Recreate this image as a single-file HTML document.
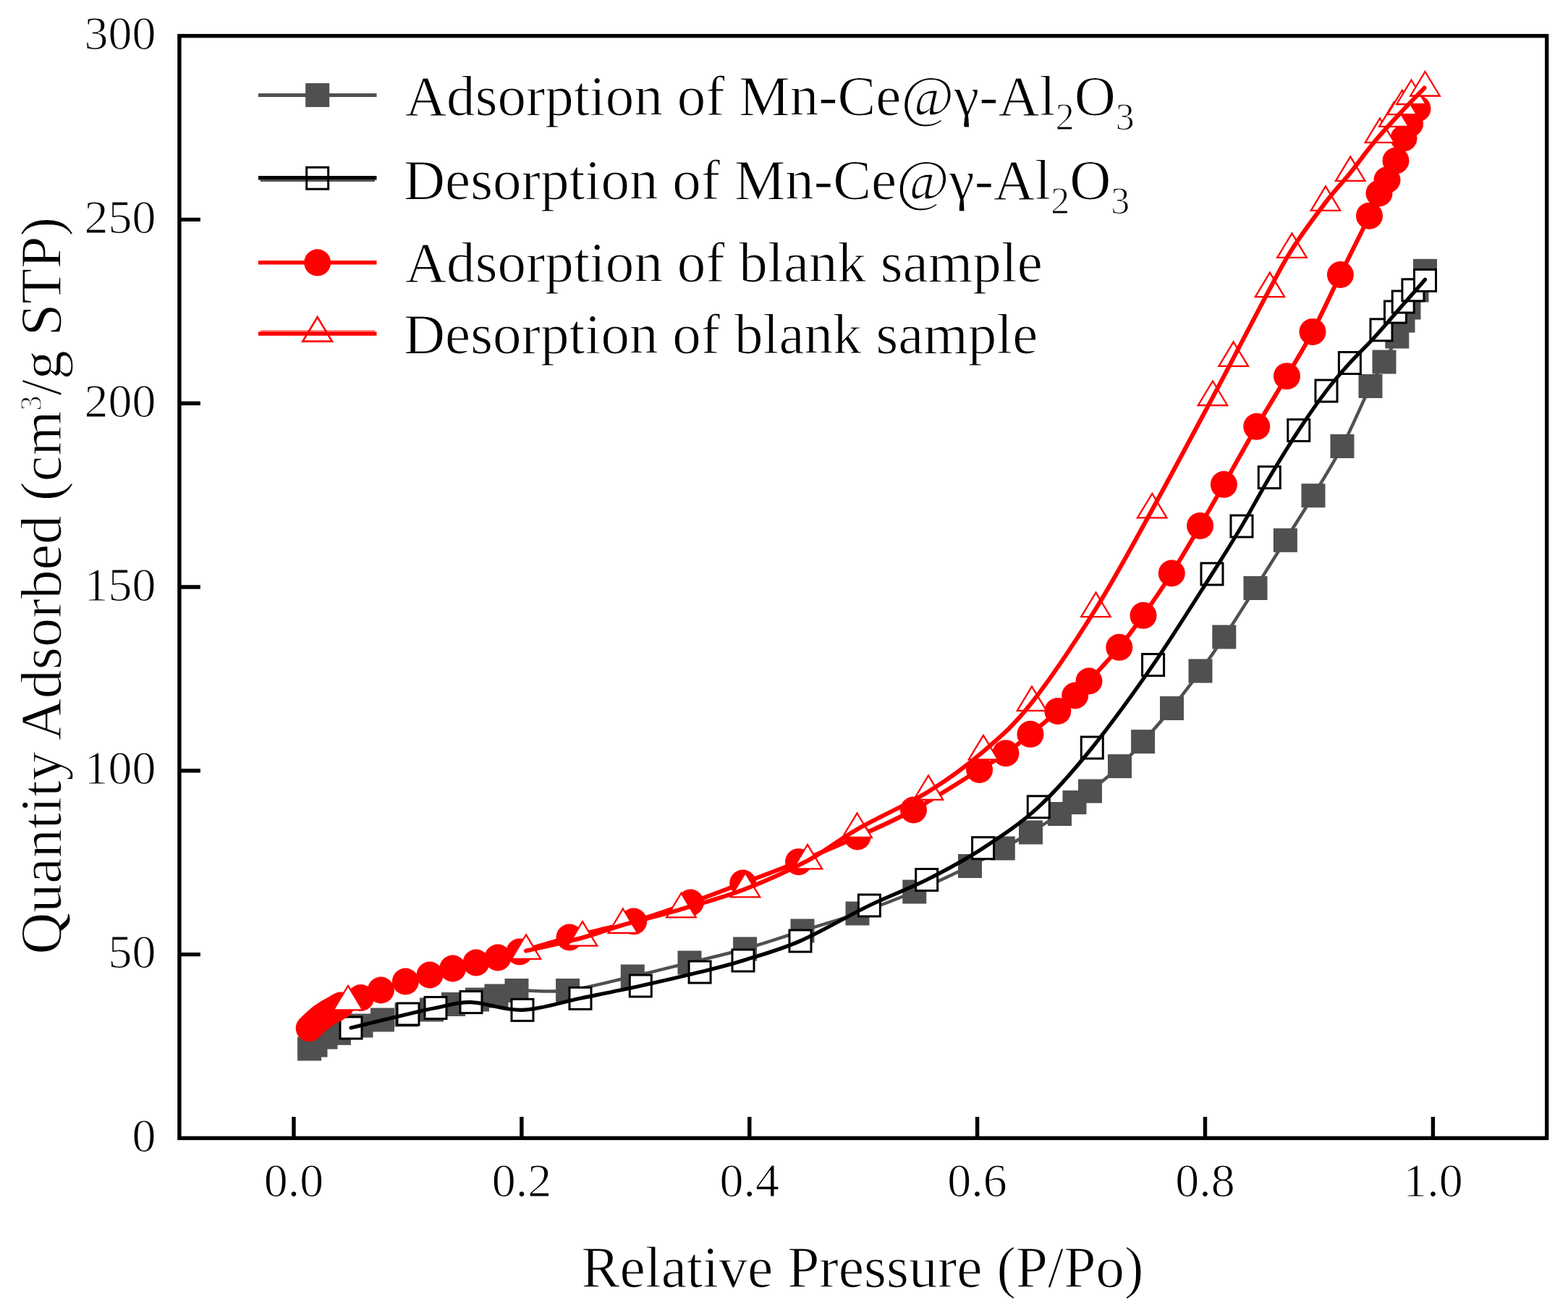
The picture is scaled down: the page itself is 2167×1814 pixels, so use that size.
<!DOCTYPE html><html><head><meta charset="utf-8"><title>Isotherm</title><style>html,body{margin:0;padding:0;background:#fff}svg{display:block}</style></head><body>
<svg width="2167" height="1814" viewBox="0 0 2167 1814">
<rect width="100%" height="100%" fill="#fff"/>
<defs><clipPath id="pc"><rect x="247.9" y="49.6" width="1889.8" height="1522.8"/></clipPath></defs>
<g clip-path="url(#pc)">
<path d="M427.6 1449C429 1448.2 432.3 1446.7 436 1444C439.7 1441.3 444.6 1435.8 450 1433C455.4 1430.2 460.3 1430 468.5 1427.3C476.7 1424.6 489 1420 499 1417C509 1414 518 1411.5 528.5 1409C539 1406.5 550.7 1404.3 562 1402C573.3 1399.7 585.8 1397.4 596.5 1395C607.2 1392.6 616 1389.8 626.5 1387.5C637 1385.2 649.6 1382.9 659.5 1381C669.4 1379.1 676.9 1378.1 686 1376C695.1 1373.9 697.6 1369.8 714 1368.5C730.4 1367.2 757.9 1371.8 784.6 1368.5C811.3 1365.2 846.2 1355.4 874.3 1349C902.4 1342.6 927.1 1336.3 953 1330C978.9 1323.7 1003.6 1318.3 1029.6 1311C1055.6 1303.7 1083.1 1294.2 1109 1286C1134.9 1277.8 1159.2 1271 1185 1262C1210.8 1253 1237.9 1242.9 1263.8 1232C1289.7 1221.1 1320.1 1206.5 1340.5 1196.5C1360.9 1186.5 1372.3 1179.8 1386.3 1172C1400.3 1164.2 1411.5 1157.9 1424.5 1150C1437.5 1142.1 1454.4 1131.4 1464.5 1124.5C1474.6 1117.6 1478 1113.8 1485 1108.6C1492 1103.3 1496.1 1101.3 1506.5 1093C1516.9 1084.7 1535.3 1070 1547.5 1058.6C1559.7 1047.2 1567.6 1037.9 1579.6 1024.6C1591.6 1011.2 1606.3 994.8 1619.5 978.5C1632.7 962.2 1647 943.4 1659 927C1671 910.6 1679.1 899.1 1691.8 880C1704.5 860.9 1720.9 834.8 1735 812.5C1749.1 790.2 1763.1 767.7 1776.4 746.4C1789.7 725.1 1801.9 706.4 1815 684.7C1828.1 663.1 1841.8 641.7 1855 616.5C1868.2 591.3 1884.3 552.9 1894 533.5C1903.7 514.1 1906.9 511.4 1913 500C1919.1 488.6 1926.5 474.5 1930.8 465C1935.1 455.5 1936.3 449.7 1939 443C1941.7 436.3 1943.8 432 1947 425C1950.2 418 1954.2 409.4 1958 401C1961.8 392.6 1967.6 378.8 1969.5 374.3" stroke="#505050" stroke-width="4.5" fill="none" stroke-linejoin="round" stroke-linecap="round"/>
<g fill="#505050" stroke="none"><rect x="411.1" y="1432.5" width="33" height="33"/><rect x="419.5" y="1427.5" width="33" height="33"/><rect x="433.5" y="1416.5" width="33" height="33"/><rect x="452" y="1410.8" width="33" height="33"/><rect x="482.5" y="1400.5" width="33" height="33"/><rect x="512" y="1392.5" width="33" height="33"/><rect x="545.5" y="1385.5" width="33" height="33"/><rect x="580" y="1378.5" width="33" height="33"/><rect x="610" y="1371" width="33" height="33"/><rect x="643" y="1364.5" width="33" height="33"/><rect x="669.5" y="1359.5" width="33" height="33"/><rect x="697.5" y="1352" width="33" height="33"/><rect x="768.1" y="1352" width="33" height="33"/><rect x="857.8" y="1332.5" width="33" height="33"/><rect x="936.5" y="1313.5" width="33" height="33"/><rect x="1013.1" y="1294.5" width="33" height="33"/><rect x="1092.5" y="1269.5" width="33" height="33"/><rect x="1168.5" y="1245.5" width="33" height="33"/><rect x="1247.3" y="1215.5" width="33" height="33"/><rect x="1324" y="1180" width="33" height="33"/><rect x="1369.8" y="1155.5" width="33" height="33"/><rect x="1408" y="1133.5" width="33" height="33"/><rect x="1448" y="1108" width="33" height="33"/><rect x="1468.5" y="1092.1" width="33" height="33"/><rect x="1490" y="1076.5" width="33" height="33"/><rect x="1531" y="1042.1" width="33" height="33"/><rect x="1563.1" y="1008.1" width="33" height="33"/><rect x="1603" y="962" width="33" height="33"/><rect x="1642.5" y="910.5" width="33" height="33"/><rect x="1675.3" y="863.5" width="33" height="33"/><rect x="1718.5" y="796" width="33" height="33"/><rect x="1759.9" y="729.9" width="33" height="33"/><rect x="1798.5" y="668.2" width="33" height="33"/><rect x="1838.5" y="600" width="33" height="33"/><rect x="1877.5" y="517" width="33" height="33"/><rect x="1896.5" y="483.5" width="33" height="33"/><rect x="1914.3" y="448.5" width="33" height="33"/><rect x="1922.5" y="426.5" width="33" height="33"/><rect x="1930.5" y="408.5" width="33" height="33"/><rect x="1941.5" y="384.5" width="33" height="33"/><rect x="1953" y="357.8" width="33" height="33"/></g>
<g fill="#fff" stroke="#000" stroke-width="3"><rect x="470" y="1405" width="30" height="30"/><rect x="549" y="1386" width="30" height="30"/><rect x="587" y="1377.5" width="30" height="30"/><rect x="636" y="1369.6" width="30" height="30"/><rect x="707" y="1380.4" width="30" height="30"/><rect x="787" y="1364.3" width="30" height="30"/><rect x="870.3" y="1347" width="30" height="30"/><rect x="952.1" y="1328" width="30" height="30"/><rect x="1012" y="1312" width="30" height="30"/><rect x="1091" y="1285" width="30" height="30"/><rect x="1186.4" y="1236" width="30" height="30"/><rect x="1265.7" y="1200.5" width="30" height="30"/><rect x="1343.6" y="1156.7" width="30" height="30"/><rect x="1420.3" y="1099.8" width="30" height="30"/><rect x="1494.3" y="1018" width="30" height="30"/><rect x="1578.6" y="903.6" width="30" height="30"/><rect x="1660" y="778" width="30" height="30"/><rect x="1701" y="712" width="30" height="30"/><rect x="1739.3" y="644.6" width="30" height="30"/><rect x="1779.8" y="579.5" width="30" height="30"/><rect x="1818" y="525" width="30" height="30"/><rect x="1850.4" y="486.5" width="30" height="30"/><rect x="1894" y="440.8" width="30" height="30"/><rect x="1913.5" y="416" width="30" height="30"/><rect x="1924.2" y="402" width="30" height="30"/><rect x="1937.9" y="385.8" width="30" height="30"/><rect x="1954.5" y="372.4" width="30" height="30"/></g>
<path d="M485 1420C498.2 1416.8 544.5 1405.6 564 1401C583.5 1396.4 587.5 1395.2 602 1392.5C616.5 1389.8 631 1384.1 651 1384.6C671 1385.1 696.8 1396.3 722 1395.4C747.2 1394.5 774.8 1384.9 802 1379.3C829.2 1373.7 857.8 1368 885.3 1362C912.8 1356 943.5 1348.8 967.1 1343C990.7 1337.2 1003.9 1334.2 1027 1327C1050.2 1319.8 1076.9 1312.7 1106 1300C1135.1 1287.3 1172.3 1265.1 1201.4 1251C1230.5 1236.9 1254.5 1228.7 1280.7 1215.5C1306.9 1202.3 1332.8 1188.5 1358.6 1171.7C1384.4 1154.9 1410.2 1137.9 1435.3 1114.8C1460.4 1091.7 1482.9 1065.7 1509.3 1033C1535.7 1000.3 1566 958.6 1593.6 918.6C1621.2 878.6 1654.6 824.9 1675 793C1695.4 761.1 1702.8 749.2 1716 727C1729.2 704.8 1741.2 681.7 1754.3 659.6C1767.4 637.5 1781.7 614.4 1794.8 594.5C1807.9 574.6 1821.2 555.5 1833 540C1844.8 524.5 1854.2 513.9 1865.4 501.5C1876.6 489.1 1888.4 478.1 1900 465.4C1911.6 452.7 1923.4 438.7 1935 425.5C1946.6 412.3 1963.8 392.8 1969.5 386.2" stroke="#000" stroke-width="5.2" fill="none" stroke-linejoin="round" stroke-linecap="round"/>
<path d="M427.2 1420.6C428.5 1419.3 432.3 1415.5 435 1413C437.7 1410.5 440.6 1408 443.5 1405.7C446.4 1403.5 449.4 1401.4 452.5 1399.5C455.6 1397.6 459.3 1395.8 462.4 1394.1C465.5 1392.3 465 1391.6 471 1389C477 1386.4 489.4 1382 498.6 1378.5C507.8 1375 516.1 1371.8 526.4 1368C536.7 1364.2 549.1 1359.5 560.4 1356C571.7 1352.5 583.1 1350 594 1347C604.9 1344 615 1340.8 625.7 1338C636.4 1335.2 647.6 1332.5 658 1330C668.4 1327.5 678 1325.5 688 1323C698 1320.5 701.5 1319.7 718 1315C734.5 1310.3 760.7 1302 787 1295C813.3 1288 847.8 1281 875.7 1273C903.6 1265 929.1 1255.8 954.3 1247C979.5 1238.2 1001.8 1229.4 1026.7 1220C1051.6 1210.6 1077.2 1201.4 1103.6 1190.7C1130 1180 1158.5 1168 1185 1156C1211.5 1144 1234.4 1134.4 1262.5 1119C1290.6 1103.6 1332.3 1076.5 1353.6 1063.5C1374.8 1050.5 1378.3 1048.9 1390 1040.7C1401.7 1032.5 1412 1024 1424 1014.3C1436 1004.6 1451.5 991.4 1461.8 982.5C1472.1 973.6 1478.5 967.9 1485.7 961C1492.9 954.1 1494.8 952.1 1505 941C1515.2 929.9 1534.3 909.4 1546.8 894.3C1559.3 879.2 1567.9 867.3 1580 850.3C1592.1 833.2 1606.2 812.6 1619.3 792C1632.4 771.4 1646.6 746.9 1658.6 726.4C1670.6 705.9 1678.4 692.1 1691.4 669.3C1704.4 646.4 1722.3 614.2 1736.8 589.3C1751.3 564.4 1765.6 541.5 1778.5 519.7C1791.4 497.9 1801.7 481.8 1814 458.4C1826.3 435 1839.3 406.2 1852.4 379.5C1865.5 352.8 1883.6 316.9 1892.5 298.2C1901.4 279.4 1901.9 275.3 1906 267C1910.1 258.7 1913.2 256 1917 248.5C1920.8 241 1925.2 231.6 1929 222C1932.8 212.4 1936.8 199.5 1940 191C1943.2 182.5 1945.3 177.8 1948.5 171C1951.7 164.2 1957.2 153.5 1959 150" stroke="#ff0000" stroke-width="6" fill="none" stroke-linejoin="round" stroke-linecap="round"/>
<g fill="#ff0000" stroke="none"><circle cx="427.2" cy="1420.6" r="18.5"/><circle cx="429.8" cy="1418.1" r="18.5"/><circle cx="432.4" cy="1415.5" r="18.5"/><circle cx="435" cy="1413" r="18.5"/><circle cx="437.8" cy="1410.6" r="18.5"/><circle cx="440.7" cy="1408.1" r="18.5"/><circle cx="443.5" cy="1405.7" r="18.5"/><circle cx="446.5" cy="1403.6" r="18.5"/><circle cx="449.5" cy="1401.6" r="18.5"/><circle cx="452.5" cy="1399.5" r="18.5"/><circle cx="455.8" cy="1397.7" r="18.5"/><circle cx="459.1" cy="1395.9" r="18.5"/><circle cx="462.4" cy="1394.1" r="18.5"/><circle cx="465.3" cy="1392.4" r="18.5"/><circle cx="468.1" cy="1390.7" r="18.5"/><circle cx="471" cy="1389" r="18.5"/><circle cx="498.6" cy="1378.5" r="18.5"/><circle cx="526.4" cy="1368" r="18.5"/><circle cx="560.4" cy="1356" r="18.5"/><circle cx="594" cy="1347" r="18.5"/><circle cx="625.7" cy="1338" r="18.5"/><circle cx="658" cy="1330" r="18.5"/><circle cx="688" cy="1323" r="18.5"/><circle cx="718" cy="1315" r="18.5"/><circle cx="787" cy="1295" r="18.5"/><circle cx="875.7" cy="1273" r="18.5"/><circle cx="954.3" cy="1247" r="18.5"/><circle cx="1026.7" cy="1220" r="18.5"/><circle cx="1103.6" cy="1190.7" r="18.5"/><circle cx="1185" cy="1156" r="18.5"/><circle cx="1262.5" cy="1119" r="18.5"/><circle cx="1353.6" cy="1063.5" r="18.5"/><circle cx="1390" cy="1040.7" r="18.5"/><circle cx="1424" cy="1014.3" r="18.5"/><circle cx="1461.8" cy="982.5" r="18.5"/><circle cx="1485.7" cy="961" r="18.5"/><circle cx="1505" cy="941" r="18.5"/><circle cx="1546.8" cy="894.3" r="18.5"/><circle cx="1580" cy="850.3" r="18.5"/><circle cx="1619.3" cy="792" r="18.5"/><circle cx="1658.6" cy="726.4" r="18.5"/><circle cx="1691.4" cy="669.3" r="18.5"/><circle cx="1736.8" cy="589.3" r="18.5"/><circle cx="1778.5" cy="519.7" r="18.5"/><circle cx="1814" cy="458.4" r="18.5"/><circle cx="1852.4" cy="379.5" r="18.5"/><circle cx="1892.5" cy="298.2" r="18.5"/><circle cx="1906" cy="267" r="18.5"/><circle cx="1917" cy="248.5" r="18.5"/><circle cx="1929" cy="222" r="18.5"/><circle cx="1940" cy="191" r="18.5"/><circle cx="1948.5" cy="171" r="18.5"/><circle cx="1959" cy="150" r="18.5"/></g>
<g fill="#fff" stroke="#ff0000" stroke-width="2.3" stroke-linejoin="miter"><path d="M481 1361.9L501.2 1395.4L460.8 1395.4Z"/><path d="M727 1291.4L747.2 1324.9L706.8 1324.9Z"/><path d="M805 1273.2L825.2 1306.7L784.8 1306.7Z"/><path d="M861 1255.5L881.2 1289L840.8 1289Z"/><path d="M941.5 1233.9L961.8 1267.4L921.2 1267.4Z"/><path d="M1030 1205.9L1050.2 1239.4L1009.8 1239.4Z"/><path d="M1116 1166.9L1136.2 1200.4L1095.8 1200.4Z"/><path d="M1184.5 1123.5L1204.8 1157L1164.2 1157Z"/><path d="M1283 1071.4L1303.2 1104.9L1262.8 1104.9Z"/><path d="M1359 1015.9L1379.2 1049.4L1338.8 1049.4Z"/><path d="M1426 948.4L1446.2 981.9L1405.8 981.9Z"/><path d="M1514.5 818.7L1534.8 852.2L1494.2 852.2Z"/><path d="M1592.3 681.9L1612.5 715.4L1572 715.4Z"/><path d="M1676 526.5L1696.2 560L1655.8 560Z"/><path d="M1704.7 472.3L1725 505.8L1684.5 505.8Z"/><path d="M1755 376.6L1775.2 410.1L1734.8 410.1Z"/><path d="M1785.5 322.3L1805.8 355.8L1765.2 355.8Z"/><path d="M1832 257.3L1852.2 290.8L1811.8 290.8Z"/><path d="M1866.3 216.3L1886.5 249.8L1846 249.8Z"/><path d="M1907 163.4L1927.2 196.9L1886.8 196.9Z"/><path d="M1926.5 141.3L1946.8 174.8L1906.2 174.8Z"/><path d="M1937.8 124.7L1958 158.2L1917.5 158.2Z"/><path d="M1950.5 110.5L1970.8 144L1930.2 144Z"/><path d="M1969.5 99L1989.8 132.5L1949.2 132.5Z"/></g>
<path d="M727 1313.7C740 1310.7 782.7 1301.5 805 1295.5C827.3 1289.5 838.2 1284.3 861 1277.8C883.8 1271.2 913.3 1264.5 941.5 1256.2C969.7 1247.9 1000.9 1239.4 1030 1228.2C1059.1 1217 1090.2 1202.9 1116 1189.2C1141.8 1175.5 1156.7 1161.7 1184.5 1145.8C1212.3 1129.9 1253.9 1111.6 1283 1093.7C1312.1 1075.8 1335.2 1058.7 1359 1038.2C1382.8 1017.7 1400.1 1003.6 1426 970.7C1451.9 937.8 1486.8 885.4 1514.5 841C1542.2 796.6 1565.4 752.9 1592.3 704.2C1619.2 655.5 1657.3 583.7 1676 548.8C1694.7 513.9 1691.5 519.6 1704.7 494.6C1717.9 469.6 1741.5 423.9 1755 398.9C1768.5 373.9 1772.7 364.5 1785.5 344.6C1798.3 324.7 1818.5 297.3 1832 279.6C1845.5 261.9 1855.1 252.5 1866.3 238.6C1877.5 224.7 1888 209.6 1899.3 196.1C1910.6 182.6 1922.6 169.8 1934.1 157.4C1945.6 145 1962.8 127.5 1968.5 121.5" stroke="#ff0000" stroke-width="6" fill="none" stroke-linejoin="round" stroke-linecap="round"/>
</g>
<rect x="247.9" y="49.6" width="1889.8" height="1522.8" fill="none" stroke="#000" stroke-width="5.4"/>
<path d="M406 1572.4V1542.9M720.9 1572.4V1542.9M1035.8 1572.4V1542.9M1350.6 1572.4V1542.9M1665.5 1572.4V1542.9M1980.4 1572.4V1542.9M247.9 1318.6H276.9M247.9 1064.8H276.9M247.9 811H276.9M247.9 557.2H276.9M247.9 303.4H276.9" stroke="#000" stroke-width="5.4" fill="none"/>
<g font-family="Liberation Serif, Times New Roman, serif" font-size="66" fill="#000" stroke="#fff" stroke-width="1.1">
<text x="215.5" y="1590.9" text-anchor="end">0</text>
<text x="215.5" y="1337.1" text-anchor="end">50</text>
<text x="215.5" y="1083.3" text-anchor="end">100</text>
<text x="215.5" y="829.5" text-anchor="end">150</text>
<text x="215.5" y="575.7" text-anchor="end">200</text>
<text x="215.5" y="321.9" text-anchor="end">250</text>
<text x="215.5" y="68.1" text-anchor="end">300</text>
<text x="406" y="1653" text-anchor="middle">0.0</text>
<text x="720.9" y="1653" text-anchor="middle">0.2</text>
<text x="1035.8" y="1653" text-anchor="middle">0.4</text>
<text x="1350.6" y="1653" text-anchor="middle">0.6</text>
<text x="1665.5" y="1653" text-anchor="middle">0.8</text>
<text x="1980.4" y="1653" text-anchor="middle">1.0</text>
</g>
<g font-family="Liberation Serif, Times New Roman, serif" font-size="79.5" fill="#000" stroke="#fff" stroke-width="1.1">
<text x="1192" y="1777.5" text-anchor="middle">Relative Pressure (P/Po)</text>
<text transform="translate(83.8 809.2) rotate(-90)" text-anchor="middle" font-size="80">Quantity Adsorbed (cm<tspan font-size="42" dy="-26.5">3</tspan><tspan dy="26.5">/g STP)</tspan></text>
</g>
<g>
<path d="M357 131.4H520.5" stroke="#505050" stroke-width="5"/>
<path d="M360 249.7H518" stroke="#555" stroke-width="2.6"/>
<path d="M357 245.8H520.5" stroke="#000" stroke-width="5.4"/>
<path d="M357 362.8H520.5" stroke="#ff0000" stroke-width="5.5"/>
<path d="M360 457.2H518" stroke="#ff8080" stroke-width="2.4"/>
<path d="M357 461.1H520.5" stroke="#ff0000" stroke-width="5.5"/>
<g fill="#505050"><rect x="422.2" y="114.9" width="33" height="33"/></g>
<g fill="none" stroke="#000" stroke-width="3"><rect x="423.7" y="231.2" width="30" height="30"/></g>
<g fill="#ff0000"><circle cx="438.7" cy="362.8" r="18.5"/></g>
<g fill="none" stroke="#ff0000" stroke-width="2.7"><path d="M438.7 438.1L458.9 471.6L418.4 471.6Z"/></g>
</g>
<g font-family="Liberation Serif, Times New Roman, serif" font-size="79.1" fill="#000" stroke="#fff" stroke-width="1.1">
<text x="560" y="159">Adsorption of Mn-Ce@γ-Al<tspan font-size="52" dy="20">2</tspan><tspan dy="-20">O</tspan><tspan font-size="52" dy="20">3</tspan></text>
<text x="558" y="275">Desorption of Mn-Ce@γ-Al<tspan font-size="52" dy="20">2</tspan><tspan dy="-20">O</tspan><tspan font-size="52" dy="20">3</tspan></text>
<text x="560" y="389.4">Adsorption of blank sample</text>
<text x="558" y="488.4">Desorption of blank sample</text>
</g>
</svg></body></html>
